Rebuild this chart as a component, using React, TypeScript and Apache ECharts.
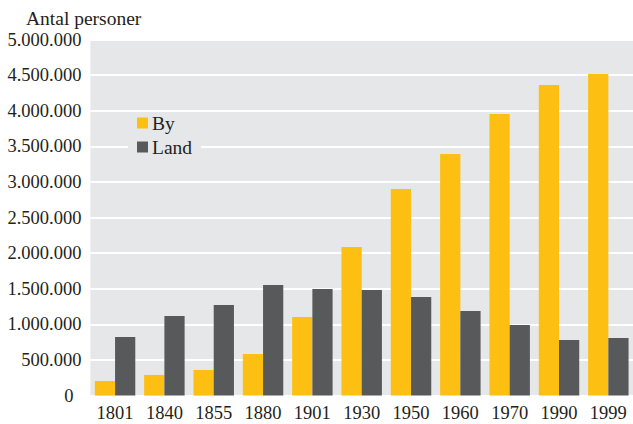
import React, { useEffect, useRef } from "react";
import * as echarts from "echarts";

const categories = ["1801", "1840", "1855", "1880", "1901", "1930", "1950", "1960", "1970", "1990", "1999"];
const byValues = [205000, 290000, 360000, 585000, 1104000, 2087000, 2900000, 3393000, 3955000, 4362000, 4517000];
const landValues = [823000, 1118000, 1272000, 1553000, 1497000, 1483000, 1385000, 1188000, 992000, 781000, 809000];
const seriesNames = ["By", "Land"];
const yTitle = "Antal personer";

const FONT = "Liberation Serif";
const TEXT = "#231f20";

function fmt(v: number): string {
  return String(v).replace(/\B(?=(\d{3})+(?!\d))/g, ".");
}

export default function App() {
  const ref = useRef<HTMLDivElement>(null);
  useEffect(() => {
    if (!ref.current) return;
    const chart = echarts.init(ref.current, undefined, { renderer: "svg" });
    chart.setOption({
      animation: false,
      title: {
        text: yTitle,
        left: 21,
        top: 3,
        textStyle: { fontFamily: FONT, fontSize: 19.5, fontWeight: "normal", color: TEXT },
      },
      legend: {
        orient: "vertical",
        left: 128,
        top: 112.5,
        padding: [0.5, 9, 5, 9],
        itemWidth: 11,
        itemHeight: 11,
        itemGap: 4,
        icon: "rect",
        backgroundColor: "#e6e7e8",
        textStyle: { fontFamily: FONT, fontSize: 19.5, color: TEXT, padding: [0, 0, 0, -1] },
        data: seriesNames,
      },
      grid: {
        left: 90.4,
        top: 39.6,
        height: 356,
        width: 552,
        show: true,
        backgroundColor: "#e6e7e8",
        borderWidth: 0,
      },
      xAxis: {
        type: "category",
        data: categories,
        axisLine: { show: false },
        axisTick: { show: false },
        axisLabel: { fontFamily: FONT, fontSize: 18.5, color: TEXT, margin: 8 },
      },
      yAxis: {
        type: "value",
        min: 0,
        max: 5000000,
        interval: 500000,
        axisLine: { show: false },
        axisTick: { show: false },
        splitLine: { show: true, lineStyle: { color: "#ffffff", width: 2 } },
        axisLabel: {
          fontFamily: FONT,
          fontSize: 18.5,
          color: TEXT,
          margin: 9,
          formatter: (v: number) => (v === 0 ? "{z|0}" : fmt(v)),
          rich: { z: { fontFamily: FONT, fontSize: 18.5, color: TEXT, padding: [0, 8, 0, 0] } },
        },
      },
      series: [
        {
          name: seriesNames[0],
          type: "bar",
          data: byValues,
          barGap: "0%",
          barCategoryGap: "18%",
          itemStyle: { color: "#fdbf11" },
        },
        {
          name: seriesNames[1],
          type: "bar",
          data: landValues,
          barGap: "0%",
          barCategoryGap: "18%",
          itemStyle: { color: "#58595b" },
        },
      ],
    });
    return () => chart.dispose();
  }, []);
  return (
    <div
      ref={ref}
      style={{ position: "fixed", left: 0, top: 0, width: 633, height: 424, background: "#fff" }}
    />
  );
}
